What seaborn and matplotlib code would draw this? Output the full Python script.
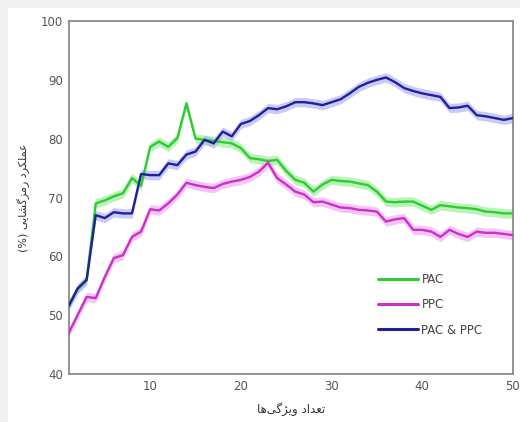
import numpy as np
import pandas as pd
import matplotlib
matplotlib.use("Agg")
import matplotlib.pyplot as plt
import seaborn as sns
from matplotlib.patches import Rectangle

# ---------------- data ----------------
n_features = list(range(1, 51))
pac = [51.5, 54.5, 56.0, 69.0, 69.5, 70.2, 70.7, 73.3, 72.0, 78.6,
       79.5, 78.6, 80.1, 86.0, 80.0, 79.8, 79.6, 79.4, 79.2, 78.4,
       76.7, 76.5, 76.2, 76.4, 74.5, 73.0, 72.5, 71.0, 72.2, 73.0,
       72.8, 72.7, 72.4, 72.1, 71.0, 69.3, 69.2, 69.3, 69.3, 68.6,
       67.9, 68.7, 68.5, 68.3, 68.2, 68.0, 67.6, 67.5, 67.3, 67.3]
ppc = [46.9, 50.0, 53.1, 52.9, 56.5, 59.7, 60.2, 63.3, 64.2, 68.0,
       67.8, 69.0, 70.5, 72.5, 72.1, 71.8, 71.6, 72.3, 72.7, 73.0,
       73.5, 74.4, 75.9, 73.3, 72.2, 71.0, 70.5, 69.2, 69.3, 68.8,
       68.3, 68.2, 67.9, 67.8, 67.6, 65.9, 66.3, 66.5, 64.5, 64.5,
       64.2, 63.3, 64.5, 63.8, 63.3, 64.2, 64.0, 64.0, 63.8, 63.6]
both = [51.5, 54.5, 56.0, 67.0, 66.5, 67.5, 67.3, 67.3, 74.0, 73.8,
        73.8, 75.8, 75.5, 77.3, 77.8, 79.8, 79.2, 81.2, 80.4, 82.5,
        83.0, 84.0, 85.2, 85.0, 85.5, 86.2, 86.2, 86.0, 85.7, 86.2,
        86.7, 87.7, 88.8, 89.5, 90.0, 90.4, 89.6, 88.6, 88.1, 87.7,
        87.4, 87.1, 85.2, 85.3, 85.6, 84.0, 83.8, 83.5, 83.2, 83.5]
series_names = ["PAC", "PPC", "PAC & PPC"]
x_ticks = [10, 20, 30, 40, 50]
y_ticks = [40, 50, 60, 70, 80, 90, 100]
xlabel_fa = "تعداد ویژگی\u200cها"
ylabel_fa = "عملکرد رمزگشایی (%)"

# ------------- minimal Persian shaping (matplotlib has no shaping) -------------
FORMS = {
    '\u0627': ('\uFE8D', '\uFE8E', None, None),      # alef
    '\u062A': ('\uFE95', '\uFE96', '\uFE97', '\uFE98'),  # teh
    '\u0639': ('\uFEC9', '\uFECA', '\uFECB', '\uFECC'),  # ain
    '\u062F': ('\uFEA9', '\uFEAA', None, None),      # dal
    '\u0648': ('\uFEED', '\uFEEE', None, None),      # waw
    '\u06CC': ('\uFBFC', '\uFBFD', '\uFBFE', '\uFBFF'),  # farsi yeh
    '\u0698': ('\uFB8A', '\uFB8B', None, None),      # jeh
    '\u06AF': ('\uFB92', '\uFB93', '\uFB94', '\uFB95'),  # gaf
    '\u0647': ('\uFEE9', '\uFEEA', '\uFEEB', '\uFEEC'),  # heh
    '\u0645': ('\uFEE1', '\uFEE2', '\uFEE3', '\uFEE4'),  # meem
    '\u0644': ('\uFEDD', '\uFEDE', '\uFEDF', '\uFEE0'),  # lam
    '\u06A9': ('\uFB8E', '\uFB8F', '\uFB90', '\uFB91'),  # keheh
    '\u0631': ('\uFEAD', '\uFEAE', None, None),      # reh
    '\u0632': ('\uFEAF', '\uFEB0', None, None),      # zain
    '\u0634': ('\uFEB5', '\uFEB6', '\uFEB7', '\uFEB8'),  # sheen
}


def shape_rtl(text):
    out = []
    for i, c in enumerate(text):
        if c not in FORMS:
            if c != '\u200c':
                out.append(c)
            continue
        prev = text[i - 1] if i > 0 else None
        nxt = text[i + 1] if i + 1 < len(text) else None
        jp = prev in FORMS and FORMS[prev][2] is not None
        jn = nxt in FORMS and FORMS[c][2] is not None
        iso, fin, ini, med = FORMS[c]
        if jp and jn:
            out.append(med)
        elif jp:
            out.append(fin)
        elif jn:
            out.append(ini)
        else:
            out.append(iso)
    vis = ''.join(reversed(out))
    return vis.translate(str.maketrans({'(': ')', ')': '('}))


# ---------------- plot ----------------
sns.set_style("white")
plt.rcParams['font.family'] = ['DejaVu Sans']

df = pd.DataFrame({
    "x": n_features * 3,
    "y": pac + ppc + both,
    "series": [series_names[0]] * 50 + [series_names[1]] * 50 + [series_names[2]] * 50,
})
line_colors = {"PAC": "#2fcc2f", "PPC": "#cc2fcc", "PAC & PPC": "#20209a"}
band_colors = {"PAC": "#8ee88e", "PPC": "#eea0ee", "PAC & PPC": "#a8a8f0"}

fig = plt.figure(figsize=(5.20, 4.22), dpi=100)
fig.patch.set_facecolor("#f0f0f0")
bg = Rectangle((8 / 520, 0), 1, 1 - 8 / 422, transform=fig.transFigure,
               facecolor="white", edgecolor="none", zorder=-5)
fig.add_artist(bg)
ax = fig.add_axes([68.5 / 520, 1 - 374 / 422, (513 - 68.5) / 520, (374 - 21) / 422])
ax.set_zorder(2)

band = 0.8
for name, vals in zip(series_names, [pac, ppc, both]):
    v = np.array(vals)
    ax.fill_between(n_features, v - band, v + band, color=band_colors[name],
                    alpha=0.6, linewidth=0, zorder=1)

sns.lineplot(data=df, x="x", y="y", hue="series", palette=line_colors,
             hue_order=series_names, linewidth=1.7, ax=ax, zorder=3)

ax.set_xlim(1, 50)
ax.set_ylim(40, 100)
ax.set_xticks(x_ticks)
ax.set_yticks(y_ticks)
for sp in ax.spines.values():
    sp.set_visible(True)
    sp.set_color("#8a8a8a")
    sp.set_linewidth(1.3)
ax.tick_params(direction="in", length=4, width=1, color="#8a8a8a",
               labelsize=8.5, labelcolor="#555555", pad=4)

ax.set_xlabel(shape_rtl(xlabel_fa), fontsize=8.5, color="#333333", labelpad=7)
ax.set_ylabel(shape_rtl(ylabel_fa), fontsize=8, color="#333333", labelpad=8)

leg = ax.legend(loc="upper left", bbox_to_anchor=(0.685, 0.30), frameon=False,
                fontsize=8.5, handlelength=3.4, labelspacing=1.05,
                borderaxespad=0.0, handletextpad=0.3)
for t in leg.get_texts():
    t.set_color("#444444")
for h in leg.get_lines():
    h.set_linewidth(2.2)

fig.savefig("out.png", dpi=100, facecolor=fig.get_facecolor())
